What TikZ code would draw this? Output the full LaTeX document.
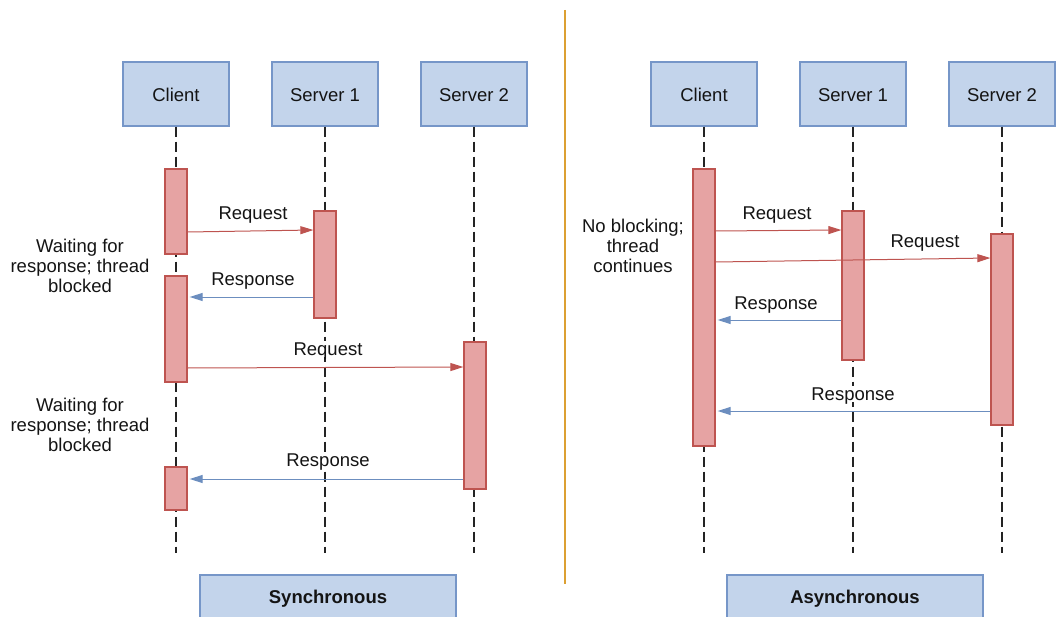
\documentclass[tikz,border=0pt]{standalone}
\usepackage{fontspec}
\setmainfont{Liberation Sans}
\usetikzlibrary{arrows.meta,calc}
\definecolor{boxfill}{RGB}{195,212,235}
\definecolor{boxline}{RGB}{118,150,200}
\definecolor{barfill}{RGB}{230,163,163}
\definecolor{barline}{RGB}{190,84,80}
\definecolor{reqcol}{RGB}{190,84,80}
\definecolor{respcol}{RGB}{108,142,191}
\definecolor{divcol}{RGB}{220,160,50}
\definecolor{lifecol}{RGB}{35,35,35}
\definecolor{txtcol}{RGB}{20,20,20}
\begin{document}
\begin{tikzpicture}[x=1pt,y=-1pt,
  every node/.style={font=\fontsize{18.5}{20}\selectfont, text=txtcol, inner sep=0pt},
  actor/.style={draw=boxline, fill=boxfill, line width=1.3pt, minimum width=106pt, minimum height=64pt, text height=15pt, text depth=0pt},
  bar/.style={draw=barline, fill=barfill, line width=1.3pt, minimum width=22pt},
  life/.style={draw=lifecol, line width=1.2pt, dash pattern=on 10pt off 5pt},
  req/.style={draw=reqcol, line width=1pt, -{Triangle[length=13pt,width=8pt]}},
  resp/.style={draw=respcol, line width=1pt, -{Triangle[length=13pt,width=8pt]}},
  msg/.style={fill=white, inner sep=2pt, text depth=0pt},
  note/.style={align=center},
  title/.style={draw=boxline, fill=boxfill, line width=1.3pt, minimum width=256pt, minimum height=44pt, text depth=0pt, font=\fontsize{18.5}{20}\selectfont\bfseries}
]
\useasboundingbox (0,0) rectangle (1056,617);

% ---------- Synchronous ----------
\node[actor] (lc) at (176,94) {Client};
\node[actor] (ls1) at (325,94) {Server 1};
\node[actor] (ls2) at (474,94) {Server 2};
\coordinate (lcE) at (176,553);
\coordinate (ls1E) at (325,553);
\coordinate (ls2E) at (474,553);
\draw[life] (lc.south) -- (lcE);
\draw[life] (ls1.south) -- (ls1E);
\draw[life] (ls2.south) -- (ls2E);

\node[bar, minimum height=85pt] (lcA) at (176,211.5) {};
\node[bar, minimum height=106pt] (lcB) at (176,329) {};
\node[bar, minimum height=43pt] (lcC) at (176,488.5) {};
\node[bar, minimum height=107pt] (ls1A) at (325,264.5) {};
\node[bar, minimum height=147pt] (ls2A) at (475,415.5) {};

\draw[req] (lcA.east |- 0,232) -- (ls1A.west |- 0,230);
\draw[resp] (ls1A.west |- 0,297) -- ($(lcB.east |- 0,297)+(2,0)$);
\draw[req] (lcB.east |- 0,368) -- (ls2A.west |- 0,367);
\draw[resp] (ls2A.west |- 0,479) -- ($(lcC.east |- 0,479)+(2,0)$);

\node[msg] (lq1) at (253,213) {Request};
\node[msg] (lr1) at (253,279) {Response};
\node[msg] (lq2) at (328,349) {Request};
\node[msg] (lr2) at (328,460) {Response};

\node[note] (lw1) at (80,265.5) {Waiting for\\response; thread\\blocked};
\node[note] (lw2) at (80,425) {Waiting for\\response; thread\\blocked};

\node[title] (sync) at (328,597) {Synchronous};

% ---------- divider ----------
\coordinate (dTop) at (565,10);
\coordinate (dBot) at (565,584);
\draw[divcol, line width=2.6pt] (dTop) -- (dBot);

% ---------- Asynchronous ----------
\node[actor] (rc) at (704,94) {Client};
\node[actor] (rs1) at (853,94) {Server 1};
\node[actor] (rs2) at (1002,94) {Server 2};
\coordinate (rcE) at (704,553);
\coordinate (rs1E) at (853,553);
\coordinate (rs2E) at (1002,553);
\draw[life] (rc.south) -- (rcE);
\draw[life] (rs1.south) -- (rs1E);
\draw[life] (rs2.south) -- (rs2E);

\node[bar, minimum height=277pt] (rcA) at (704,307.5) {};
\node[bar, minimum height=149pt] (rs1A) at (853,285.5) {};
\node[bar, minimum height=191pt] (rs2A) at (1002,329.5) {};

\draw[req] (rcA.east |- 0,231) -- (rs1A.west |- 0,230);
\draw[req] (rcA.east |- 0,262) -- (rs2A.west |- 0,258);
\draw[resp] (rs1A.west |- 0,320) -- ($(rcA.east |- 0,320)+(2,0)$);
\draw[resp] (rs2A.west |- 0,411) -- ($(rcA.east |- 0,411)+(2,0)$);

\node[msg] (rq1) at (777,213) {Request};
\node[msg] (rq2) at (925,241) {Request};
\node[msg] (rr1) at (776,303) {Response};
\node[msg] (rr2) at (853,394) {Response};

\node[note] (rn) at (633,245.5) {No blocking;\\thread\\continues};

\node[title] (async) at (855,597) {Asynchronous};
\end{tikzpicture}
\end{document}
